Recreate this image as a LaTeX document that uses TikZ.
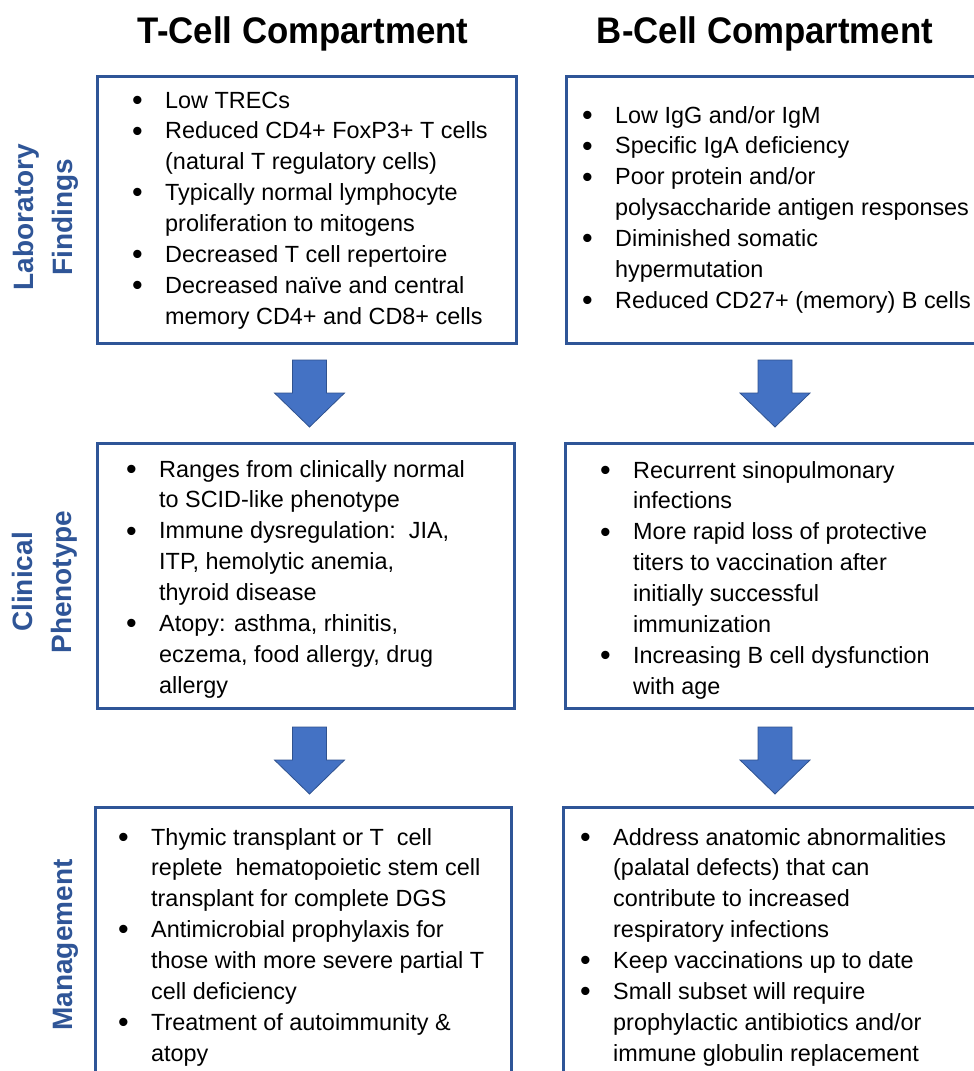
\documentclass[tikz,border=0pt]{standalone}
\usepackage{fontspec}
\usepackage{graphicx}
\setmainfont{Liberation Sans}
\newfontfamily\titlefont[FakeStretch=0.94]{Liberation Sans}
\definecolor{boxblue}{HTML}{2F5597}
\definecolor{labblue}{HTML}{2F5597}
\definecolor{arrowfill}{HTML}{4472C4}
\definecolor{arrowline}{HTML}{2F528F}
\newcommand\bul{\makebox[32pt][l]{\hspace{-1.2pt}\raisebox{-2.2pt}{\scalebox{1.3}{•}}}}
\tikzset{
  box/.style={draw=boxblue, line width=3pt, rectangle, inner sep=0pt},
  items/.style={anchor=base west, inner sep=0pt, font=\fontsize{23.4}{30.9}\selectfont},
  side/.style={text=labblue, font=\fontsize{28}{39}\selectfont\bfseries, rotate=90, align=center, inner sep=0pt},
  ttl/.style={font=\titlefont\fontsize{37}{40}\selectfont\bfseries, anchor=base, inner sep=0pt},
  arrowstyle/.style={fill=arrowfill, draw=arrowline, line width=0.8pt, line join=miter},
  pics/downarrow/.style={code={\draw[arrowstyle] (-17,0) -- (17,0) -- (17,33) -- (35,33) -- (0,67) -- (-35,33) -- (-17,33) -- cycle;}}
}
\begin{document}
\begin{tikzpicture}[x=1pt,y=-1pt]
\useasboundingbox (0,0) rectangle (974,1071);
\clip (0,0) rectangle (974,1071);
\fill[white] (0,0) rectangle (974,1071);

% titles
\node[ttl] (ttitle) at (303,43) {T-Cell Compartment};
\node[ttl] (btitle) at (765,43) {B-Cell Compartment};

% side labels
\node[side] (lablab) at (45.5,217) {Laboratory\\Findings};
\node[side] (labclin) at (44.5,582) {Clinical\\Phenotype};
\node[side, anchor=base] (labmgmt) at (72,945) {Management};

% boxes
\node[box, minimum width=419pt, minimum height=267pt] (labT) at (306.5,209.5) {};
\node[box, minimum width=424pt, minimum height=267pt] (labB) at (778,209.5) {};
\node[box, minimum width=417pt, minimum height=265pt] (clinT) at (305.5,575.5) {};
\node[box, minimum width=425pt, minimum height=265pt] (clinB) at (777.5,575.5) {};
\node[box, minimum width=416pt, minimum height=283pt] (mgmtT) at (303,948.5) {};
\node[box, minimum width=427pt, minimum height=283pt] (mgmtB) at (776.5,948.5) {};

% arrows
\pic at (309.5,360) {downarrow};
\pic at (775,360) {downarrow};
\pic at (309.5,727) {downarrow};
\pic at (775,727) {downarrow};

% texts
\node[items] (labTtext) at (133,108) {\begin{tabular}[t]{@{}l@{}l@{}}
\bul & Low TRECs\\
\bul & Reduced CD4+ FoxP3+ T cells\\
 & (natural T regulatory cells)\\
\bul & Typically normal lymphocyte\\
 & proliferation to mitogens\\
\bul & Decreased T cell repertoire\\
\bul & Decreased naïve and central\\
 & memory CD4+ and CD8+ cells
\end{tabular}};

\node[items] (labBtext) at (583,123) {\begin{tabular}[t]{@{}l@{}l@{}}
\bul & Low IgG and/or IgM\\
\bul & Specific IgA deficiency\\
\bul & Poor protein and/or\\
 & polysaccharide antigen responses\\
\bul & Diminished somatic\\
 & hypermutation\\
\bul & Reduced CD27+ (memory) B cells
\end{tabular}};

\node[items] (clinTtext) at (127,477) {\begin{tabular}[t]{@{}l@{}l@{}}
\bul & Ranges from clinically normal\\
 & to SCID-like phenotype\\
\bul & Immune dysregulation:\ \ JIA,\\
 & ITP, hemolytic anemia,\\
 & thyroid disease\\
\bul & Atopy: asthma, rhinitis,\\
 & eczema, food allergy, drug\\
 & allergy
\end{tabular}};

\node[items] (clinBtext) at (601,478) {\begin{tabular}[t]{@{}l@{}l@{}}
\bul & Recurrent sinopulmonary\\
 & infections\\
\bul & More rapid loss of protective\\
 & titers to vaccination after\\
 & initially successful\\
 & immunization\\
\bul & Increasing B cell dysfunction\\
 & with age
\end{tabular}};

\node[items] (mgmtTtext) at (119,845) {\begin{tabular}[t]{@{}l@{}l@{}}
\bul & Thymic transplant or T\ \ cell\\
 & replete\ \ hematopoietic stem cell\\
 & transplant for complete DGS\\
\bul & Antimicrobial prophylaxis for\\
 & those with more severe partial T\\
 & cell deficiency\\
\bul & Treatment of autoimmunity \&\\
 & atopy
\end{tabular}};

\node[items] (mgmtBtext) at (581,845) {\begin{tabular}[t]{@{}l@{}l@{}}
\bul & Address anatomic abnormalities\\
 & (palatal defects) that can\\
 & contribute to increased\\
 & respiratory infections\\
\bul & Keep vaccinations up to date\\
\bul & Small subset will require\\
 & prophylactic antibiotics and/or\\
 & immune globulin replacement
\end{tabular}};
\end{tikzpicture}
\end{document}
